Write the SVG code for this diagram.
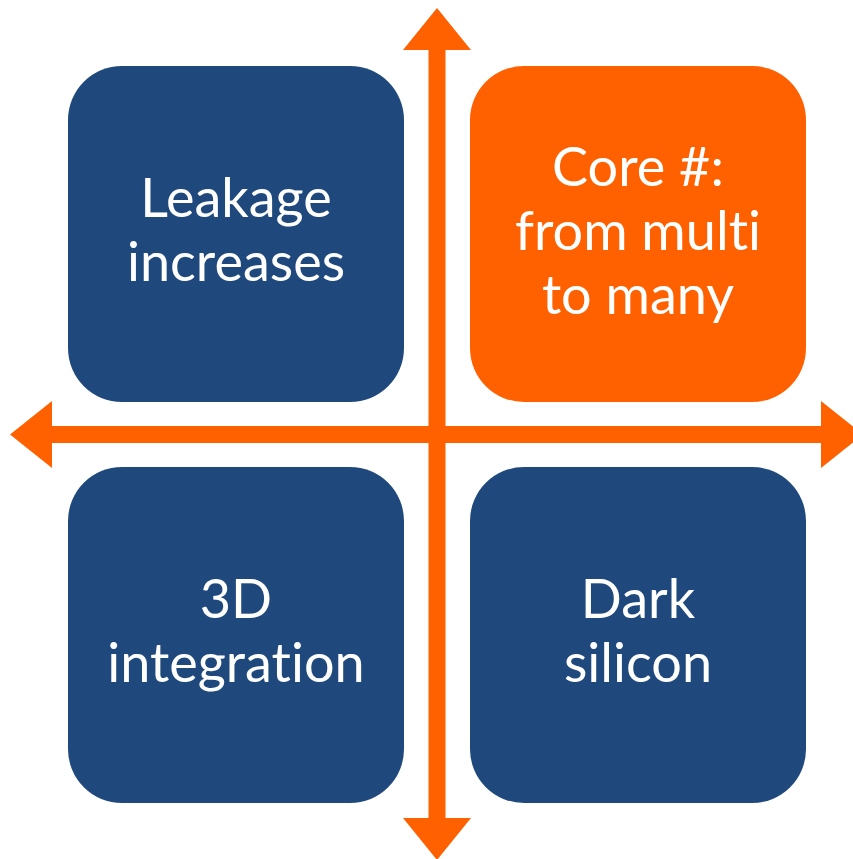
<svg xmlns="http://www.w3.org/2000/svg" width="853" height="859" viewBox="0 0 853 859">
<style>
.box{fill:#1F497D}
.hot{fill:#FF6100}
.ax{fill:#FF6100}
.t{font-family:Lato,"Open Sans","Liberation Sans",sans-serif;font-size:54px;fill:#ffffff;text-anchor:middle;font-variant-ligatures:none}
</style>
<rect width="853" height="859" fill="#ffffff"/>
<g id="node-leakage">
<rect class="box" x="68" y="66" width="336" height="336" rx="54"/>
<text class="t" x="236" y="217">Leakage</text>
<text class="t" x="236" y="281">increases</text>
</g>
<g id="node-core">
<rect class="hot" x="470" y="66" width="336" height="336" rx="54"/>
<text class="t" x="638" y="186">Core #:</text>
<text class="t" x="638" y="250">from multi</text>
<text class="t" x="638" y="314">to many</text>
</g>
<g id="node-3d">
<rect class="box" x="68" y="467" width="336" height="336" rx="54"/>
<text class="t" x="236" y="618">3D</text>
<text class="t" x="236" y="682">integration</text>
</g>
<g id="node-dark">
<rect class="box" x="470" y="467" width="336" height="336" rx="54"/>
<text class="t" x="638" y="618">Dark</text>
<text class="t" x="638" y="682">silicon</text>
</g>
<g id="connectors">
<path class="ax" d="M428.5,50 L403,50 L437,8 L471,50 L445.5,50 L445.5,818 L471,818 L437,860 L403,818 L428.5,818 Z"/>
<path class="ax" d="M52,426 L52,401 L10,434.5 L52,468 L52,443 L821,443 L821,468 L863,434.5 L821,401 L821,426 Z"/>
</g>
</svg>
